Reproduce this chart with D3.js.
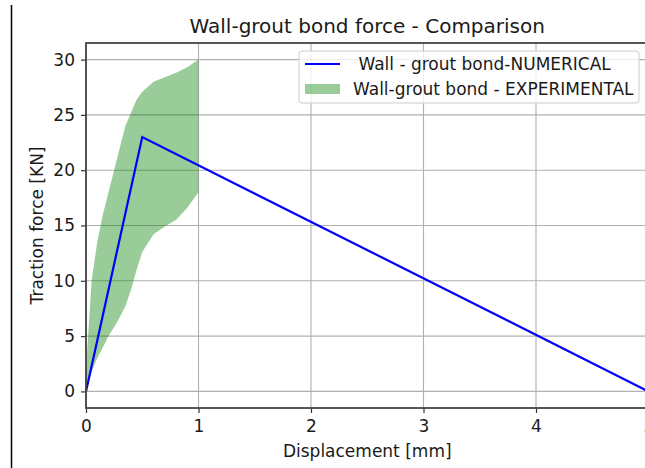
<!DOCTYPE html>
<html>
<head>
<meta charset="utf-8">
<script src="https://cdnjs.cloudflare.com/ajax/libs/d3/7.8.5/d3.min.js"></script>
<style>
	body { margin: 0; background: #fff; }
	text { font-family: "DejaVu Sans", sans-serif; fill: #1a1a1a; }
</style>
</head>
<body>
<svg width="645" height="468"></svg>
<script>
// Numerical model (bilinear)
var numX = [0, 0.5, 5];
var numY = [0, 23, 0];

// Experimental envelope
var expX  = [0, 0.05, 0.1, 0.15, 0.2, 0.25, 0.3, 0.35, 0.4, 0.45, 0.5, 0.6, 0.7, 0.8, 0.9, 1.0];
var expLo = [0, 1.8, 3, 4, 5, 5.8, 6.7, 7.7, 9.2, 11, 12.6, 14.2, 14.9, 15.5, 16.6, 18];
var expHi = [2, 10, 13.5, 16, 18, 20, 22, 24, 25.2, 26.4, 27.1, 28, 28.4, 28.8, 29.3, 30];

var xTicks = [0, 1, 2, 3, 4, 5];
var yTicks = [0, 5, 10, 15, 20, 25, 30];

var svg = d3.select("svg"),
	width = +svg.attr("width"),
	height = +svg.attr("height");

// plot box (note: "top" is taken by window.top)
var pLeft = 86, pRight = 648.5, pTop = 43, pBottom = 408;

var x = d3.scaleLinear().domain([0, 5]).range([pLeft, pRight]);
var y = d3.scaleLinear().domain([-1.5, 31.5]).range([pBottom, pTop]);

// black border line on the left (part of the screenshot)
svg.append("line")
	.attr("x1", 11.5).attr("x2", 11.5)
	.attr("y1", 5).attr("y2", height)
	.attr("stroke", "#000").attr("stroke-width", 1.5);

// Grid
var grid = svg.append("g").attr("class", "grid");
grid.selectAll("line.gx")
	.data(xTicks)
	.enter().append("line")
	.attr("x1", (d) => x(d)).attr("x2", (d) => x(d))
	.attr("y1", pTop).attr("y2", pBottom)
	.attr("stroke", "#b0b0b0").attr("stroke-width", 1.1);
grid.selectAll("line.gy")
	.data(yTicks)
	.enter().append("line")
	.attr("x1", pLeft).attr("x2", pRight)
	.attr("y1", (d) => y(d)).attr("y2", (d) => y(d))
	.attr("stroke", "#b0b0b0").attr("stroke-width", 1.1);

// Experimental band
var band = expX.map((d, i) => ({ x: d, lo: expLo[i], hi: expHi[i] }));
var area = d3.area()
	.x((d) => x(d.x))
	.y0((d) => y(d.lo))
	.y1((d) => y(d.hi));

svg.append("path")
	.datum(band)
	.attr("d", area)
	.attr("fill", "green")
	.attr("fill-opacity", 0.4);

// Numerical line
var line = d3.line()
	.x((d) => x(d[0]))
	.y((d) => y(d[1]));

svg.append("path")
	.datum(numX.map((d, i) => [d, numY[i]]))
	.attr("d", line)
	.attr("fill", "none")
	.attr("stroke", "#0000ff")
	.attr("stroke-width", 2.2);

// Axes
var xAxis = svg.append("g")
	.attr("transform", "translate(0," + pBottom + ")")
	.call(d3.axisBottom(x).tickValues(xTicks).tickFormat(d3.format("d")).tickSize(5).tickPadding(7));
var yAxis = svg.append("g")
	.attr("transform", "translate(" + pLeft + ",0)")
	.call(d3.axisLeft(y).tickValues(yTicks).tickFormat(d3.format("d")).tickSize(5).tickPadding(6));

[xAxis, yAxis].forEach((g) => {
	g.select(".domain").remove();
	g.selectAll(".tick line").attr("stroke", "#333").attr("stroke-width", 1.2);
	g.selectAll(".tick text").attr("font-size", 17).attr("fill", "#1a1a1a")
		.style("font-family", "'DejaVu Sans', sans-serif");
});

// Spines
svg.append("rect")
	.attr("x", pLeft).attr("y", pTop)
	.attr("width", pRight - pLeft).attr("height", pBottom - pTop)
	.attr("fill", "none")
	.attr("stroke", "#444").attr("stroke-width", 1.8);

// Labels
svg.append("text")
	.attr("x", (pLeft + pRight) / 2).attr("y", 33)
	.attr("text-anchor", "middle")
	.attr("font-size", 20)
	.text("Wall-grout bond force - Comparison");

svg.append("text")
	.attr("x", (pLeft + pRight) / 2).attr("y", 457)
	.attr("text-anchor", "middle")
	.attr("font-size", 17)
	.text("Displacement [mm]");

svg.append("text")
	.attr("transform", "translate(43," + (pTop + pBottom) / 2 + ") rotate(-90)")
	.attr("text-anchor", "middle")
	.attr("font-size", 17)
	.text("Traction force [KN]");

// Legend
var legend = svg.append("g").attr("transform", "translate(299,51)");
legend.append("rect")
	.attr("width", 340).attr("height", 52)
	.attr("rx", 3)
	.attr("fill", "#fff").attr("fill-opacity", 0.8)
	.attr("stroke", "#ccc").attr("stroke-width", 1);
legend.append("line")
	.attr("x1", 6).attr("x2", 41)
	.attr("y1", 13).attr("y2", 13)
	.attr("stroke", "#0000ff").attr("stroke-width", 2.2);
legend.append("text")
	.attr("x", 54).attr("y", 19)
	.attr("font-size", 17)
	.style("white-space", "pre")
	.text(" Wall - grout bond-NUMERICAL");
legend.append("rect")
	.attr("x", 6).attr("y", 33)
	.attr("width", 35).attr("height", 10)
	.attr("fill", "green").attr("fill-opacity", 0.4);
legend.append("text")
	.attr("x", 54).attr("y", 44)
	.attr("font-size", 17)
	.text("Wall-grout bond - EXPERIMENTAL");
</script>
</body>
</html>
